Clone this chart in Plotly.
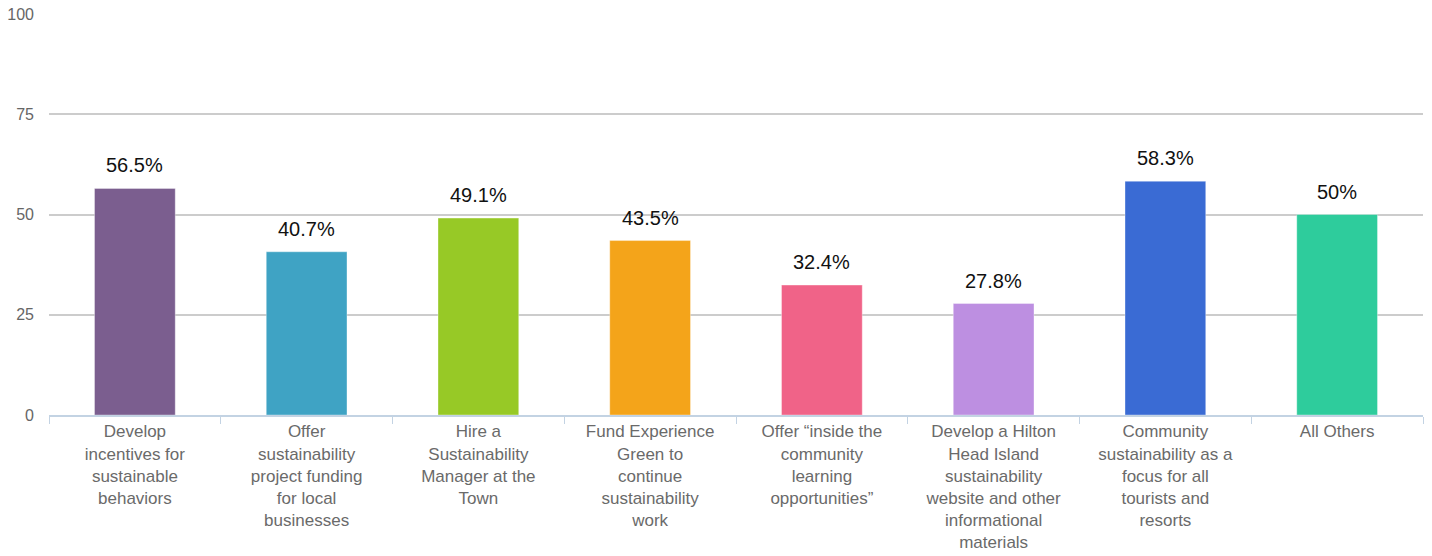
import plotly.graph_objects as go

categories = [
    "Develop incentives for sustainable behaviors",
    "Offer sustainability project funding for local businesses",
    "Hire a Sustainability Manager at the Town",
    "Fund Experience Green to continue sustainability work",
    "Offer “inside the community learning opportunities”",
    "Develop a Hilton Head Island sustainability website and other informational materials",
    "Community sustainability as a focus for all tourists and resorts",
    "All Others",
]
tick_labels = [
    "Develop<br>incentives for<br>sustainable<br>behaviors",
    "Offer<br>sustainability<br>project funding<br>for local<br>businesses",
    "Hire a<br>Sustainability<br>Manager at the<br>Town",
    "Fund Experience<br>Green to<br>continue<br>sustainability<br>work",
    "Offer “inside the<br>community<br>learning<br>opportunities”",
    "Develop a Hilton<br>Head Island<br>sustainability<br>website and other<br>informational<br>materials",
    "Community<br>sustainability as a<br>focus for all<br>tourists and<br>resorts",
    "All Others",
]
values = [56.5, 40.7, 49.1, 43.5, 32.4, 27.8, 58.3, 50]
value_labels = ["56.5%", "40.7%", "49.1%", "43.5%", "32.4%", "27.8%", "58.3%", "50%"]
y_ticks = [0, 25, 50, 75, 100]

colors = ["#7B5E8F", "#3FA3C4", "#97C926", "#F4A41A",
          "#F06388", "#BD8FE1", "#3A6BD4", "#2ECC9C"]

FONT = "Liberation Sans, Arial, Helvetica, sans-serif"

fig = go.Figure()
fig.add_trace(go.Bar(
    x=categories,
    y=values,
    marker=dict(color=colors, line=dict(color="rgba(255,255,255,0.35)", width=1)),
    hoverinfo="x+y",
))

# value labels above each bar
for cat, v, lab in zip(categories, values, value_labels):
    fig.add_annotation(
        x=cat, y=v, text=lab, showarrow=False,
        yanchor="bottom", yshift=10,
        font=dict(family=FONT, size=20, color="#111111"),
    )

fig.update_layout(
    width=1432, height=556,
    margin=dict(l=49, r=9, t=14, b=141),
    paper_bgcolor="white", plot_bgcolor="white",
    bargap=0.53,
    showlegend=False,
    font=dict(family=FONT),
)
fig.update_xaxes(
    tickvals=categories, ticktext=tick_labels, automargin=False,
    tickfont=dict(family=FONT, size=17, color="#6A6A6A"),
    showline=True, linecolor="#C3D3E3", linewidth=2,
    ticks="outside", tickson="boundaries", ticklen=7, tickcolor="#C3D3E3", tickwidth=1,
    showgrid=False,
)
fig.update_yaxes(
    range=[0, 100], tickvals=y_ticks, automargin=False,
    tickfont=dict(family=FONT, size=16, color="#666666"),
    showgrid=True, gridcolor="#CCCCCC", gridwidth=1.5,
    zeroline=False, showline=False, ticks="", ticklabelstandoff=14,
)

fig.write_html("out.html")
